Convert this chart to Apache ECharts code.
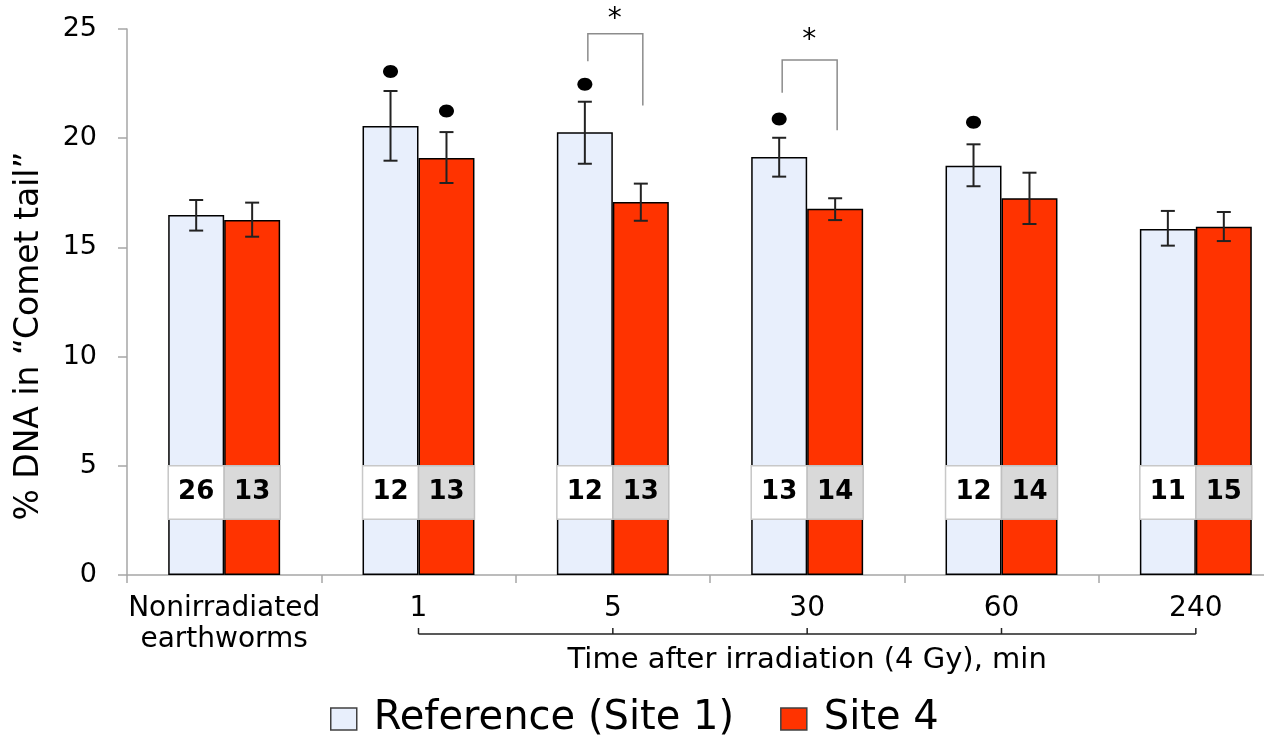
<!DOCTYPE html>
<html>
<head>
<meta charset="utf-8">
<script src="https://cdn.jsdelivr.net/npm/echarts@6/dist/echarts.min.js"></script>
<style>
html,body{margin:0;padding:0;background:#fff;}
#chart{width:1264px;height:741px;}
</style>
</head>
<body>
<div id="chart"></div>
<script>
const categories = ['Nonirradiated\nearthworms', '1', '5', '30', '60', '240'];
const refMean = [16.48, 20.56, 20.27, 19.14, 18.74, 15.84];
const refLow = [15.77, 18.97, 18.83, 18.24, 17.80, 15.08];
const refHigh = [17.17, 22.16, 21.67, 20.02, 19.72, 16.67];
const site4Mean = [16.25, 19.09, 17.08, 16.77, 17.25, 15.95];
const site4Low = [15.49, 17.95, 16.22, 16.25, 16.07, 15.29];
const site4High = [17.05, 20.28, 17.92, 17.25, 18.42, 16.62];
const refN = [26, 12, 12, 13, 12, 11];
const site4N = [13, 13, 13, 14, 14, 15];
const refDot = [null, 23.05, 22.47, 20.88, 20.73, null];
const site4Dot = [null, 21.25, null, null, null, null];
const bracketCat = [2, 3];
const bracketLeft = [23.52, 22.08];
const bracketTop = [24.78, 23.58];
const bracketRight = [21.5, 20.36];
const bracketStar = [25.7, 24.76];
const yTicks = [0, 5, 10, 15, 20, 25];
const seriesNames = ['Reference (Site 1)', 'Site 4'];
const timeSpan = [1, 5];
const timeTitle = 'Time after irradiation (4 Gy), min';
const yTitle = '% DNA in \u201cComet tail\u201d';

const FONT = 'DejaVu Sans';
const BAR_FRAC = 0.288;
const BOX_LOW = 2.55, BOX_HIGH = 5;

const chart = echarts.init(document.getElementById('chart'), null, {renderer: 'canvas'});

function barX(api, i, which) {
  const c = api.coord([i, 0])[0];
  const bw = api.size([1, 0])[0] * BAR_FRAC;
  return {cx: c + (which === 0 ? -bw / 2 : bw / 2), bw: bw};
}

const errData = [];
for (let i = 0; i < categories.length; i++) {
  errData.push([i, refLow[i], refHigh[i], 0]);
  errData.push([i, site4Low[i], site4High[i], 1]);
}
const boxData = categories.map((c, i) => [i, refN[i], site4N[i]]);
const dotData = [];
for (let i = 0; i < categories.length; i++) {
  if (refDot[i] != null) dotData.push([i, refDot[i], 0]);
  if (site4Dot[i] != null) dotData.push([i, site4Dot[i], 1]);
}
const bracketData = bracketCat.map((c, k) => [c, bracketLeft[k], bracketTop[k], bracketRight[k], bracketStar[k]]);

const option = {
  animation: false,
  backgroundColor: '#fff',
  textStyle: {fontFamily: FONT},
  grid: {left: 127, top: 29, width: 1166, height: 546, containLabel: false, outerBoundsMode: 'none'},
  legend: {
    data: seriesNames,
    left: 330, top: 699,
    padding: 0,
    icon: 'rect',
    itemWidth: 26, itemHeight: 22, itemGap: 46,
    itemStyle: {borderColor: '#404040', borderWidth: 1.5},
    textStyle: {fontSize: 40, fontFamily: FONT, color: '#000', padding: [0, 0, 0, 12]}
  },
  xAxis: {
    type: 'category',
    data: categories,
    axisLine: {lineStyle: {color: '#a6a6a6', width: 1.5}},
    axisTick: {show: true, length: 8, interval: 0, lineStyle: {color: '#a6a6a6', width: 1.5}},
    axisLabel: {color: '#000', fontSize: 28, fontFamily: FONT, lineHeight: 31, margin: 18, interval: 0}
  },
  yAxis: {
    type: 'value',
    min: yTicks[0], max: yTicks[yTicks.length - 1], interval: yTicks[1] - yTicks[0],
    axisLine: {show: true, lineStyle: {color: '#a6a6a6', width: 1.5}},
    axisTick: {show: true, length: 9, lineStyle: {color: '#a6a6a6', width: 1.5}},
    splitLine: {show: false},
    axisLabel: {color: '#000', fontSize: 27, fontFamily: FONT, margin: 30},
    name: yTitle,
    nameLocation: 'middle',
    nameRotate: 90,
    nameGap: 81,
    nameTextStyle: {color: '#000', fontSize: 33, fontFamily: FONT, padding: [0, 68, 0, 0]}
  },
  series: [
    {
      name: seriesNames[0], type: 'bar', data: refMean,
      barWidth: (BAR_FRAC * 100) + '%', barGap: '0%',
      itemStyle: {color: '#e8effc', borderColor: '#000', borderWidth: 1.5}
    },
    {
      name: seriesNames[1], type: 'bar', data: site4Mean,
      barWidth: (BAR_FRAC * 100) + '%', barGap: '0%',
      itemStyle: {color: '#ff3300', borderColor: '#000', borderWidth: 1.5}
    },
    {
      type: 'custom', name: 'boxes', z: 4, clip: false, silent: true,
      data: boxData,
      encode: {x: 0, y: 1},
      renderItem: function (params, api) {
        const i = api.value(0);
        const yTop = api.coord([i, BOX_HIGH])[1];
        const yBot = api.coord([i, BOX_LOW])[1];
        const a = barX(api, i, 0), b = barX(api, i, 1);
        const h = yBot - yTop;
        return {
          type: 'group',
          children: [
            {type: 'rect', shape: {x: a.cx - a.bw / 2, y: yTop, width: a.bw, height: h},
             style: {fill: '#ffffff', stroke: '#c8c8c8', lineWidth: 1.5}},
            {type: 'rect', shape: {x: b.cx - b.bw / 2, y: yTop, width: b.bw, height: h},
             style: {fill: '#d9d9d9', stroke: '#c0c0c0', lineWidth: 1.5}},
            {type: 'text', style: {x: a.cx, y: (yTop + yBot) / 2, text: String(api.value(1)),
              fill: '#000', font: 'bold 26px "DejaVu Sans"', align: 'center', verticalAlign: 'middle'}},
            {type: 'text', style: {x: b.cx, y: (yTop + yBot) / 2, text: String(api.value(2)),
              fill: '#000', font: 'bold 26px "DejaVu Sans"', align: 'center', verticalAlign: 'middle'}}
          ]
        };
      }
    },
    {
      type: 'custom', name: 'errors', z: 5, clip: false, silent: true,
      data: errData,
      encode: {x: 0, y: [1, 2]},
      renderItem: function (params, api) {
        const i = api.value(0);
        const w = api.value(3);
        const bx = barX(api, i, w);
        const yl = api.coord([i, api.value(1)])[1];
        const yh = api.coord([i, api.value(2)])[1];
        const cap = 7;
        const st = {stroke: '#222', lineWidth: 2};
        return {
          type: 'group',
          children: [
            {type: 'line', shape: {x1: bx.cx, y1: yl, x2: bx.cx, y2: yh}, style: st},
            {type: 'line', shape: {x1: bx.cx - cap, y1: yl, x2: bx.cx + cap, y2: yl}, style: st},
            {type: 'line', shape: {x1: bx.cx - cap, y1: yh, x2: bx.cx + cap, y2: yh}, style: st}
          ]
        };
      }
    },
    {
      type: 'custom', name: 'dots', z: 5, clip: false, silent: true,
      data: dotData,
      encode: {x: 0, y: 1},
      renderItem: function (params, api) {
        const i = api.value(0);
        const bx = barX(api, i, api.value(2));
        const y = api.coord([i, api.value(1)])[1];
        return {type: 'ellipse', shape: {cx: bx.cx, cy: y, rx: 7.5, ry: 6.5}, style: {fill: '#000'}};
      }
    },
    {
      type: 'custom', name: 'brackets', z: 5, clip: false, silent: true,
      data: bracketData,
      encode: {x: 0, y: 1},
      renderItem: function (params, api) {
        const i = api.value(0);
        const a = barX(api, i, 0), b = barX(api, i, 1);
        const yl = api.coord([i, api.value(1)])[1];
        const yt = api.coord([i, api.value(2)])[1];
        const yr = api.coord([i, api.value(3)])[1];
        const ys = api.coord([i, api.value(4)])[1];
        return {
          type: 'group',
          children: [
            {type: 'polyline', shape: {points: [[a.cx + 3, yl], [a.cx + 3, yt], [b.cx + 2, yt], [b.cx + 2, yr]]},
             style: {stroke: '#8c8c8c', lineWidth: 1.5, fill: null}},
            {type: 'text', style: {x: (a.cx + b.cx) / 2 + 2, y: ys + 6, text: '*', fill: '#000',
              font: '28px "DejaVu Sans"', align: 'center', verticalAlign: 'middle'}}
          ]
        };
      }
    },
    {
      type: 'custom', name: 'timeBracket', z: 5, clip: false, silent: true,
      data: [[timeSpan[0], timeSpan[1]]],
      encode: {x: [0, 1]},
      renderItem: function (params, api) {
        const c0 = api.value(0), c1 = api.value(1);
        const p0 = api.coord([c0, 0]);
        const p1 = api.coord([c1, 0]);
        const y = p0[1] + 59;
        const children = [
          {type: 'line', shape: {x1: p0[0], y1: y, x2: p1[0], y2: y}, style: {stroke: '#222', lineWidth: 1.5}}
        ];
        for (let k = c0; k <= c1; k++) {
          const x = api.coord([k, 0])[0];
          children.push({type: 'line', shape: {x1: x, y1: y, x2: x, y2: y - 6}, style: {stroke: '#222', lineWidth: 1.5}});
        }
        children.push({type: 'text', style: {x: (p0[0] + p1[0]) / 2, y: y + 26, text: timeTitle, fill: '#000',
          font: '29px "DejaVu Sans"', align: 'center', verticalAlign: 'middle'}});
        return {type: 'group', children: children};
      }
    }
  ]
};
chart.setOption(option);
</script>
</body>
</html>
